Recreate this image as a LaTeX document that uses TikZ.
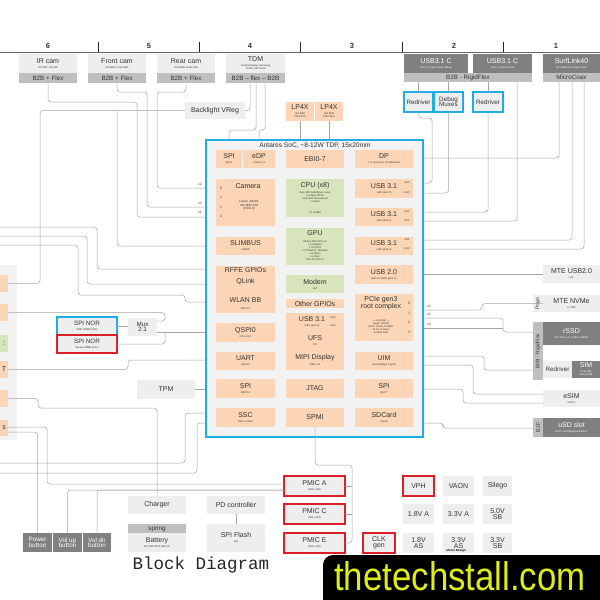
\documentclass[tikz,border=0pt]{standalone}
\usepackage{fontspec}
\setmainfont{Liberation Sans}
\newfontfamily\monofnt{Liberation Mono}
\usepackage{tikz}
\usetikzlibrary{positioning}

\definecolor{socorange}{RGB}{251,213,181}
\definecolor{cpugreen}{RGB}{216,228,188}
\definecolor{socfill}{RGB}{242,242,242}
\definecolor{socblue}{RGB}{31,173,228}
\definecolor{extgray}{RGB}{238,238,238}
\definecolor{darkbox}{RGB}{128,128,128}
\definecolor{bandgray}{RGB}{191,191,191}
\definecolor{pmred}{RGB}{218,31,38}
\definecolor{wiregray}{RGB}{165,165,165}
\definecolor{markyellow}{RGB}{222,238,20}

\newcommand{\lbl}{\fontsize{7}{7.5}\selectfont}
\newcommand{\medlbl}{\fontsize{6.3}{6.8}\selectfont}
\newcommand{\sml}{\fontsize{2.6}{3}\selectfont}

\tikzstyle{blk} = [rectangle, fill=socorange, inner sep=0pt, outer sep=0pt, align=center, font=\lbl, text=black!80]
\tikzstyle{gblk} = [blk, fill=cpugreen]
\tikzstyle{ext} = [rectangle, fill=extgray, inner sep=0pt, outer sep=0pt, align=center, font=\lbl, text=black!80]
\tikzstyle{dext} = [ext, fill=darkbox, text=white]
\tikzstyle{band} = [ext, fill=bandgray, font=\medlbl]
\tikzstyle{cyanbox} = [ext, draw=socblue, line width=1.4pt, font=\medlbl]
\tikzstyle{redbox} = [ext, draw=pmred, line width=1.4pt]
\tikzstyle{wire} = [draw=wiregray, line width=0.5pt, rounded corners=3pt]
\tikzstyle{wlbl} = [font=\fontsize{3.5}{4}\selectfont, inner sep=0pt, text=black!75]
\tikzstyle{note} = [font=\sml, align=center, inner sep=0pt, text=black!80]
\tikzset{sz/.style 2 args={minimum width=#1pt, minimum height=#2pt}}

\begin{document}
\begin{tikzpicture}[x=1pt, y=-1pt]
\useasboundingbox (0,0) rectangle (600,600);
\fill[white] (0,0) rectangle (600,600);

% column ruler
\draw[black!60, line width=0.6pt] (0,52) -- (600,52);
\foreach \tx in {98,199,300,402,503}
  \draw[black!85, line width=0.9pt] (\tx,42) -- (\tx,52);
\foreach \cn/\cx in {6/48,5/149,4/250,3/352,2/454,1/556}
  \node (col\cn) [font=\fontsize{7.5}{8}\selectfont\bfseries, text=black!80] at (\cx,46) {\cn};

% connectors on top
\node (ircam) [ext, sz={58}{19}] at (48,63.5) {IR cam\\[-2.5pt]{\sml OV7251, IR LED}};
\node (irband) [band, sz={58}{10}] at (48,78) {B2B + Flex};
\node (frontcam) [ext, sz={58}{19}] at (117,63.5) {Front cam\\[-2.5pt]{\sml OV5693, Front LED}};
\node (frontband) [band, sz={58}{10}] at (117,78) {B2B + Flex};
\node (rearcam) [ext, sz={58}{19}] at (186,63.5) {Rear cam\\[-2.5pt]{\sml OV13858, Rear LED}};
\node (rearband) [band, sz={58}{10}] at (186,78) {B2B + Flex};
\node (tdm) [ext, sz={59}{19}] at (255.5,63.5) {TDM\\[-2.5pt]{\sml Central display, Samsung}\\[-4.5pt]{\sml TCON, SPI touch}};
\node (tdmband) [band, sz={59}{10}] at (255.5,78) {B2B -- flex -- B2B};
\node (backlight) [ext, sz={60}{17}] at (215,110.5) {Backlight VReg};
\node (lpa) [blk, sz={28}{19}] at (300,111.5) {LP4X\\[-2.5pt]{\sml x64 8GB}\\[-4.5pt]{\sml 2133 MHz}};
\node (lpb) [blk, sz={28}{19}] at (329,111.5) {LP4X\\[-2.5pt]{\sml x64 8GB}\\[-4.5pt]{\sml 2133 MHz}};

\node (usbca) [dext, sz={64}{19}] at (436,63.5) {USB3.1 C\\[-2.5pt]{\sml Port 1, Power in/out, debug}};
\node (usbcb) [dext, sz={59}{19}] at (502.5,63.5) {USB3.1 C\\[-2.5pt]{\sml Port 1, Power in/out}};
\node (rfband) [band, sz={128}{9}] at (468,77.5) {B2B - RigidFlex};
\node (surflink) [dext, sz={57}{19}] at (571.5,63.5) {SurfLink40\\[-2.5pt]{\sml DP, USB port, Power in/out}};
\node (mcband) [band, sz={57}{9}] at (571.5,77.5) {MicroCoax};
\node (redra) [cyanbox, sz={29}{20}] at (418.5,102) {Redriver};
\node (dbg) [cyanbox, sz={29}{20}] at (448.5,102) {Debug\\[-1.5pt]Muxes};
\node (redrb) [cyanbox, sz={30}{20}] at (488,102) {Redriver};

% the SoC
\node (soc) [draw=socblue, fill=socfill, line width=1.6pt, sz={217}{297}] at (314.5,288.5) {};
\node (soctitle) [font=\fontsize{6.6}{7}\selectfont, text=black!80] at (315,146) {Antares SoC, \textasciitilde8-12W TDP, 15x20mm};

\node (spia) [blk, sz={26}{18}] at (229,159) {SPI\\[-2.5pt]{\sml QUP1}};
\node (edp) [blk, sz={32}{18}] at (259,159) {eDP\\[-2.5pt]{\sml 4-lane 1.3}};
\node (ebi) [blk, sz={58}{18}] at (315,159) {EBI0-7};
\node (dp) [blk, sz={58}{18}] at (384,159) {DP\\[-2.5pt]{\sml 1.4, two ports, 8.1Gb/s/lane}};

\node (cam) [blk, sz={59}{47}] at (245.5,202.5) {};
\node (camtxt) [font=\lbl, text=black!80] at (248,186) {Camera};
\node (camsub) [note, font=\fontsize{3}{3.6}\selectfont] at (249,205.5) {Lanes: 4/4/4/4\\3x5 MIPI CSI\\(CSI0-3)};
\foreach \lid/\ly in {0/188,1/197,2/207,3/216}
  \node[wlbl] at (221,\ly) {\lid};

\node (cpu) [gblk, sz={58}{38}] at (315,198) {};
\node (cputxt) [font=\lbl, text=black!80] at (315,185.5) {CPU (x8)};
\node (cpusub) [note] at (315,197.5) {Kryo 495 Gold/Silver cores\\4+4 big.LITTLE\\2.84 GHz Gold speed\\x 4 GHz};
\node (cpul3) [note] at (315,212.5) {L3 (4 MB)};

\node (gpu) [gblk, sz={58}{37}] at (315,246.5) {};
\node (gputxt) [font=\lbl, text=black!80] at (315,233.5) {GPU};
\node (gpusub) [note] at (315,251) {Adreno 680 GPU 2 x\\x 2 Clusters\\1 TFLOPS\\x 2 Shaders, Textures\\x Uniform\\x x GHz\\Two 4K 120 Hz};

\node (usba) [blk, sz={58}{19}] at (384,188.5) {USB 3.1\\[-2.5pt]{\sml xHCI (port 0)}};
\node (usbb) [blk, sz={58}{18}] at (384,217) {USB 3.1\\[-2.5pt]{\sml xHCI (port 1)}};
\node (usbc) [blk, sz={58}{18}] at (384,246) {USB 3.1\\[-2.5pt]{\sml xHCI (port 2)}};
\node (usbtwo) [blk, sz={58}{19}] at (384,274.5) {USB 2.0\\[-2.5pt]{\sml EHCI \& OHCI (port 4)}};
\foreach \tg/\ty in {SS0/183,HS0/193,SS1/212,HS1/221,SS2/240,HS2/249}
  \node[note] at (407,\ty) {\tg};

\node (slim) [blk, sz={59}{18}] at (245.5,246) {SLIMBUS\\[-2.5pt]{\sml LPASS}};
\node (rffe) [blk, sz={59}{47}] at (245.5,289.5) {};
\node (rffetxt) [font=\lbl, text=black!80] at (245.5,270.5) {RFFE GPIOs};
\node (qlink) [font=\lbl, text=black!80] at (245.5,282) {QLink};
\node (wlan) [font=\lbl, text=black!80] at (245.5,300) {WLAN BB};
\node (wlansub) [note] at (245.5,308.5) {WSI 2.0};

\node (modem) [gblk, sz={58}{18}] at (315,284) {Modem\\[-2.5pt]{\sml x24}};
\node (gpio) [blk, sz={58}{9}] at (315,303.5) {Other GPIOs};
\node (store) [blk, sz={58}{57}] at (315,341.5) {};
\node (usbd) [font=\lbl, text=black!80] at (312,319) {USB 3.1};
\node (usbdsub) [note] at (312,326) {xHCI (port 3)};
\node[note] at (333,318) {SS3};
\node[note] at (333,326) {HS3};
\node (ufs) [font=\lbl, text=black!80] at (315,338.5) {UFS};
\node (ufssub) [note] at (315,345) {3.0};
\node (mipi) [font=\lbl, text=black!80] at (315,357.5) {MIPI Display};
\node (mipisub) [note] at (315,364.5) {DSI0, x4};

\node (pcie) [blk, sz={58}{47}] at (384,317.5) {};
\node (pcietxt) [font=\lbl, text=black!80, align=center] at (381,303.5) {PCIe gen3\\[-1pt]root complex};
\node (pciesub) [note] at (381,327) {--- controller ---\\Gen3: 3/3/3/3\\Port0: PortA, PortB/C\\x2 x2 x4 lanes\\8 GB/s total};
\foreach \lid/\ly in {0/303,1/313,2/322,3/332}
  \node[wlbl] at (409,\ly) {\lid};

\node (qspi) [blk, sz={59}{19}] at (245.5,332.5) {QSPI0\\[-2.5pt]{\sml CS0, CS1}};
\node (uart) [blk, sz={59}{18}] at (245.5,361) {UART\\[-2.5pt]{\sml QUPxx}};
\node (uim) [blk, sz={58}{18}] at (384,361) {UIM\\[-2.5pt]{\sml Dual voltage, 2 ports}};
\node (spib) [blk, sz={59}{19}] at (245.5,388.5) {SPI\\[-2.5pt]{\sml QUP14}};
\node (jtag) [blk, sz={58}{19}] at (315,388.5) {JTAG};
\node (spic) [blk, sz={58}{19}] at (384,388.5) {SPI\\[-2.5pt]{\sml QUP7}};
\node (ssc) [blk, sz={59}{19}] at (245.5,417.5) {SSC\\[-2.5pt]{\sml SSC1, SSC2}};
\node (spmi) [blk, sz={58}{19}] at (315,417.5) {SPMI};
\node (sdcard) [blk, sz={58}{19}] at (384,417.5) {SDCard\\[-2.5pt]{\sml 2 ports}};

% left side
\node (lpanel) [ext, fill=socfill, sz={17}{175}] at (8.5,352.5) {};
\node (lboxa) [blk, sz={8}{17}] at (4,283.5) {};
\node (lboxb) [blk, sz={8}{17}] at (4,312.5) {};
\node (lboxc) [gblk, sz={8}{17}, font=\sml] at (4,343.5) {x\\x};
\node (lboxd) [blk, sz={8}{17}] at (4,369.5) {T};
\node (lboxe) [blk, sz={8}{17}] at (4,398.5) {};
\node (lboxf) [blk, sz={8}{16}] at (4,428) {s};

\node (norcs0) [cyanbox, sz={60}{18}] at (87,326) {SPI NOR\\[-2pt]{\sml UEFI 32MB (CS0)}};
\node (norcs1) [redbox, font=\medlbl, sz={60}{18}] at (87,344) {SPI NOR\\[-2pt]{\sml Secure 32MB (CS1)}};
\node (mux) [ext, font=\medlbl, sz={29}{18}] at (142.5,327) {Mux\\[-1.5pt]2:1};
\node (tpm) [ext, sz={58}{19}] at (166,389.5) {TPM};

% bottom
\node (power) [dext, font=\medlbl, sz={29}{19}] at (37.5,542.5) {Power\\[-1.5pt]button};
\node (volup) [dext, font=\medlbl, sz={29}{19}] at (67.5,542.5) {Vol up\\[-1.5pt]button};
\node (voldn) [dext, font=\medlbl, sz={28}{19}] at (97,542.5) {Vol dn\\[-1.5pt]button};
\node (charger) [ext, sz={58}{18}] at (157,505) {Charger};
\node (spring) [band, sz={58}{9}] at (157,528.5) {spring};
\node (battery) [ext, sz={58}{19}] at (157,542.5) {Battery\\[-2.5pt]{\sml 45.6 Wh 2S2P with FG}};
\node (pd) [ext, sz={58}{18}] at (236,505) {PD controller};
\node (spiflash) [ext, sz={58}{28}] at (236,538) {SPI Flash\\[-2.5pt]{\sml (x4)}};
\node (pmica) [redbox, sz={61}{20}] at (314.5,486) {PMIC A\\[-2.5pt]{\sml (SW, LDO)}};
\node (pmicc) [redbox, sz={61}{20}] at (314.5,514) {PMIC C\\[-2.5pt]{\sml (SW, LDO)}};
\node (pmice) [redbox, sz={61}{20}] at (314.5,543) {PMIC E\\[-2.5pt]{\sml (SW, LDO)}};
\node (clk) [redbox, sz={32}{20}] at (379,543) {CLK\\[-1.5pt]gen};
\node (vph) [redbox, sz={31}{20}] at (418.5,486) {VPH};
\node (vaon) [ext, sz={31}{20}] at (458.5,486) {VAON};
\node (silego) [ext, sz={29}{20}] at (497.5,486) {Silego};
\node (rla) [ext, sz={31}{20}] at (418.5,514) {1.8V A};
\node (rlb) [ext, sz={31}{20}] at (458.5,514) {3.3V A};
\node (rlc) [ext, sz={29}{20}] at (497.5,514) {5.0V\\[-1.5pt]SB};
\node (rld) [ext, sz={31}{20}] at (418.5,543) {1.8V\\[-1.5pt]AS};
\node (rle) [ext, sz={31}{20}] at (458.5,543) {3.3V\\[-1.5pt]AS};
\node (rlf) [ext, sz={29}{20}] at (497.5,543) {3.3V\\[-1.5pt]SB};
\node (ucore) [font=\fontsize{3}{3}\selectfont\bfseries, inner sep=0pt] at (456,550.5) {uCore Design};

% right side
\node (mteusb) [ext, sz={57}{18}] at (571.5,274) {MTE USB2.0\\[-2.5pt]{\sml HS}};
\node (pogo) [ext, rotate=90, font=\fontsize{5}{5}\selectfont, sz={17}{10}] at (538,303.5) {Pogo};
\node (nvme) [ext, sz={57}{17}] at (571.5,303.5) {MTE NVMe\\[-2.5pt]{\sml x1 TBD}};
\node (b2bv) [band, rotate=90, font=\fontsize{5}{5}\selectfont, sz={58}{10}] at (538,351) {B2B - RigidFlex};
\node (rssd) [dext, sz={57}{23}] at (571.5,333.5) {rSSD\\[-2.5pt]{\sml M.2 PCIe x4, 1 GB/s, 512GB}};
\node (redrc) [ext, font=\medlbl, sz={29}{17}] at (557.5,369.5) {Redriver};
\node (sim) [dext, sz={28}{17}] at (586,369.5) {SIM\\[-2.5pt]{\sml Dual SIM}\\[-4.5pt]{\sml detect SIM}};
\node (esim) [ext, sz={57}{17}] at (571.5,398.5) {eSIM\\[-2.5pt]{\sml eUICC}};
\node (b2f) [band, rotate=90, font=\fontsize{5}{5}\selectfont, sz={19}{10}] at (538,427.5) {B2F};
\node (usd) [dext, sz={57}{19}] at (571.5,427.5) {uSD slot\\[-2.5pt]{\sml UHS-I w/hotplug/card detect}};

% wires: cameras and display
\draw[wire] (irband.south) |- (137,102) -- (137,217) -- (soc.west |- 0,217);
\draw[wire] (frontband.south) |- (147,92) -- (147,207) -- (soc.west |- 0,207);
\draw[wire] (rearband.south) |- (157,92) -- (157,188) -- (soc.west |- 0,188);
\node[wlbl] at (200,184) {x2};
\node[wlbl] at (200,203.5) {x4};
\node[wlbl] at (200,212.5) {x1};
\draw[wire] (tdmband.south -| 250,0) |- (backlight.east);
\draw[wire] (tdmband.south -| 256,0) |- (229,130) -- (soc.north -| spia);
\draw[wire] (tdmband.south -| 265,0) |- (259,130) -- (soc.north -| edp);
\draw[wire] (lpa.south) -- (soc.north -| lpa);
\draw[wire] (lpb.south) -- (soc.north -| lpb);

% wires: USB-C, DP
\draw[wire] (rfband.south -| redra) -- (redra.north);
\draw[wire] (redra.south) |- (432,118) -- (432,183) -- (soc.east |- 0,183);
\draw[wire] (rfband.south -| dbg) -- (dbg.north);
\draw[wire] (dbg.south) |- (soc.east |- 0,193);
\draw[wire] (rfband.south -| redrb) -- (redrb.north);
\draw[wire] (redrb.south) |- (soc.east |- 0,212);
\draw[wire] (rfband.south -| 517,0) |- (soc.east |- 0,221);
\draw[wire] (mcband.south -| 559,0) |- (soc.east |- 0,158);
\draw[wire] (mcband.south -| 572,0) |- (soc.east |- 0,240);
\draw[wire] (mcband.south -| 584,0) |- (soc.east |- 0,249);
\draw[wire] (mteusb.west) -- (soc.east |- mteusb);

% wires: PCIe, UIM, SPI, SD
\draw[wire] (soc.east |- 0,310) -| (482,303.5) -- (pogo.south);
\draw[wire] (soc.east |- 0,318) -| (503,332) -- (b2bv.north |- 0,332);
\draw[wire] (soc.east |- 0,328) -- (503,328);
\node[wlbl] at (429,306.5) {x2};
\node[wlbl] at (429,314.5) {x2};
\node[wlbl] at (429,324.5) {x4};
\draw[wire] (soc.east |- 0,356) -| (484,370) -- (b2bv.north |- 0,370);
\draw[wire] (soc.east |- 0,365) -| (473,394) -- (esim.west |- 0,394);
\draw[wire] (soc.east |- 0,389) -| (463,403) -- (esim.west |- 0,403);
\draw[wire] (soc.east |- 0,423) -| (443,428) -- (b2f.north |- 0,428);

% wires: left side
\coordinate (blj) at (117,110.5);
\draw[wire] (backlight.west) -| (40,283.5) -- (lboxa.east);
\draw[wire] (blj) |- (soc.west |- slim);
\coordinate (lina) at (0,227);
\coordinate (linb) at (0,236);
\coordinate (linc) at (0,245);
\draw[wire] (lina) -| (97,269) -- (soc.west |- 0,269);
\draw[wire] (linb) -| (87,284) -- (soc.west |- 0,284);
\draw[wire] (linc) -| (78,295) -| (185,302) -- (soc.west |- 0,302);
\draw[wire] (lboxb.east) -| (165,321) -- (mux.east |- 0,321);
\draw[wire] (mux.east |- qspi) -- (soc.west |- qspi);
\draw[wire] (norcs1.east) -| (165,332.5);
\draw[wire] (norcs0.east) -- (mux.west |- norcs0);
\draw[wire] (lboxd.east) -| (128,360) -- (soc.west |- 0,360);
\draw[wire] (tpm.east) -- (soc.west |- tpm);
\draw[wire] (lboxe.east) -| (38,408) -| (charger.north);
\draw[wire] (lboxf.east |- 0,427) -| (47,484) -- (pmica.west |- 0,484);
\draw[wire] (lboxf.east |- 0,432) -| (power.north);
\draw[wire] (volup.north) |- (pmica.west |- 0,490);
\draw[wire] (voldn.north) |- (pmica.west |- 0,490);
\coordinate (louta) at (0,463);
\coordinate (loutb) at (0,473);
\draw[wire] (soc.west |- 0,413) -| (185,463) -- (louta);
\draw[wire] (soc.west |- 0,423) -| (197,473) -- (loutb);

% wires: PMIC bus
\draw[wire] (spmi.south) |- (352,465) -- (352,543) -- (pmice.east);
\draw[wire] (352,486) -- (pmica.east);
\draw[wire] (352,514) -- (pmicc.east);
\draw[wire] (pd.south) -- (spiflash.north);

% title and mark
\node (title) [font=\monofnt\fontsize{17.5}{18}\selectfont, anchor=base, text=black!85] at (201,569) {Block Diagram};
\begin{scope}
\clip (0,0) rectangle (600,600);
\fill[black, rounded corners=10pt] (323,555) rectangle (640,640);
\end{scope}
\node (mark) [font=\fontsize{40}{41}\selectfont, xscale=0.87, text=markyellow, anchor=base] at (460,590) {thetechstall.com};
\end{tikzpicture}
\end{document}
